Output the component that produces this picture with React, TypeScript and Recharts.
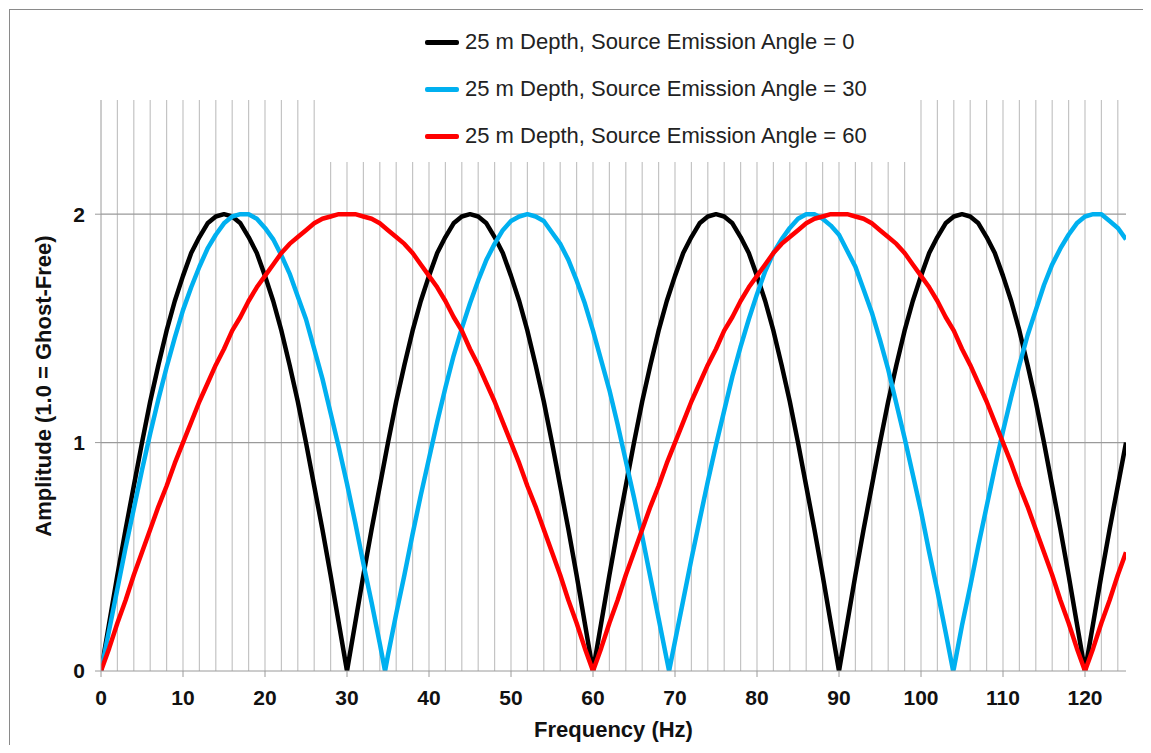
import React from "react";
import { LineChart, Line, XAxis, YAxis, ReferenceLine, Label } from "recharts";

const FONT = '"Liberation Sans", Arial, sans-serif';

// frequency samples (Hz)
const freq = [
  0, 1, 2, 3, 4, 5, 6, 7, 8, 9, 10, 11, 12, 13, 14, 15, 16, 17, 18, 19, 20, 21, 22, 23, 24, 25, 26, 27, 28, 29,
  30, 31, 32, 33, 34, 35, 36, 37, 38, 39, 40, 41, 42, 43, 44, 45, 46, 47, 48, 49, 50, 51, 52, 53, 54, 55, 56, 57, 58, 59,
  60, 61, 62, 63, 64, 65, 66, 67, 68, 69, 70, 71, 72, 73, 74, 75, 76, 77, 78, 79, 80, 81, 82, 83, 84, 85, 86, 87, 88, 89,
  90, 91, 92, 93, 94, 95, 96, 97, 98, 99, 100, 101, 102, 103, 104, 105, 106, 107, 108, 109, 110, 111, 112, 113, 114, 115, 116, 117, 118, 119,
  120, 121, 122, 123, 124, 125,
];

// angle = 0 (notches at 30 Hz spacing)
const amp0 = [
  0, 0.21, 0.42, 0.62, 0.81, 1.0, 1.18, 1.34, 1.49, 1.62, 1.73, 1.83, 1.9, 1.96, 1.99, 2.0, 1.99, 1.96, 1.9, 1.83, 1.73, 1.62, 1.49, 1.34, 1.18, 1.0, 0.81, 0.62, 0.42, 0.21,
  0, 0.21, 0.42, 0.62, 0.81, 1.0, 1.18, 1.34, 1.49, 1.62, 1.73, 1.83, 1.9, 1.96, 1.99, 2.0, 1.99, 1.96, 1.9, 1.83, 1.73, 1.62, 1.49, 1.34, 1.18, 1.0, 0.81, 0.62, 0.42, 0.21,
  0, 0.21, 0.42, 0.62, 0.81, 1.0, 1.18, 1.34, 1.49, 1.62, 1.73, 1.83, 1.9, 1.96, 1.99, 2.0, 1.99, 1.96, 1.9, 1.83, 1.73, 1.62, 1.49, 1.34, 1.18, 1.0, 0.81, 0.62, 0.42, 0.21,
  0, 0.21, 0.42, 0.62, 0.81, 1.0, 1.18, 1.34, 1.49, 1.62, 1.73, 1.83, 1.9, 1.96, 1.99, 2.0, 1.99, 1.96, 1.9, 1.83, 1.73, 1.62, 1.49, 1.34, 1.18, 1.0, 0.81, 0.62, 0.42, 0.21,
  0, 0.21, 0.42, 0.62, 0.81, 1.0,
];

// angle = 60 (notches at 60 Hz spacing)
const amp60 = [
  0, 0.1, 0.21, 0.31, 0.42, 0.52, 0.62, 0.72, 0.81, 0.91, 1.0, 1.09, 1.18, 1.26, 1.34, 1.41, 1.49, 1.55, 1.62, 1.68, 1.73, 1.78, 1.83, 1.87, 1.9, 1.93, 1.96, 1.98, 1.99, 2.0,
  2.0, 2.0, 1.99, 1.98, 1.96, 1.93, 1.9, 1.87, 1.83, 1.78, 1.73, 1.68, 1.62, 1.55, 1.49, 1.41, 1.34, 1.26, 1.18, 1.09, 1.0, 0.91, 0.81, 0.72, 0.62, 0.52, 0.42, 0.31, 0.21, 0.1,
  0, 0.1, 0.21, 0.31, 0.42, 0.52, 0.62, 0.72, 0.81, 0.91, 1.0, 1.09, 1.18, 1.26, 1.34, 1.41, 1.49, 1.55, 1.62, 1.68, 1.73, 1.78, 1.83, 1.87, 1.9, 1.93, 1.96, 1.98, 1.99, 2.0,
  2.0, 2.0, 1.99, 1.98, 1.96, 1.93, 1.9, 1.87, 1.83, 1.78, 1.73, 1.68, 1.62, 1.55, 1.49, 1.41, 1.34, 1.26, 1.18, 1.09, 1.0, 0.91, 0.81, 0.72, 0.62, 0.52, 0.42, 0.31, 0.21, 0.1,
  0, 0.1, 0.21, 0.31, 0.42, 0.52,
];

// angle = 30 has its own samples (notches near 34.6, 69.3, 103.9 Hz)
const freq30 = [
  0, 1, 2, 3, 4, 5, 6, 7, 8, 9, 10, 11, 12, 13, 14, 15, 16, 17, 18, 19, 20, 21, 22, 23, 24, 25, 26, 27, 28, 29,
  30, 31, 32, 33, 34, 34.64, 35, 36, 37, 38, 39, 40, 41, 42, 43, 44, 45, 46, 47, 48, 49, 50, 51, 52, 53, 54, 55, 56, 57, 58, 59,
  60, 61, 62, 63, 64, 65, 66, 67, 68, 69, 69.28, 70, 71, 72, 73, 74, 75, 76, 77, 78, 79, 80, 81, 82, 83, 84, 85, 86, 87, 88, 89,
  90, 91, 92, 93, 94, 95, 96, 97, 98, 99, 100, 101, 102, 103, 103.92, 104, 105, 106, 107, 108, 109, 110, 111, 112, 113, 114, 115, 116, 117, 118, 119,
  120, 121, 122, 123, 124, 125,
];
const amp30 = [
  0, 0.18, 0.36, 0.54, 0.71, 0.88, 1.04, 1.19, 1.33, 1.46, 1.58, 1.68, 1.77, 1.85, 1.91, 1.96, 1.99, 2.0, 2.0, 1.98, 1.94, 1.89, 1.82, 1.74, 1.64, 1.54, 1.41, 1.28, 1.13, 0.98,
  0.82, 0.65, 0.47, 0.3, 0.12, 0, 0.07, 0.25, 0.42, 0.6, 0.77, 0.93, 1.09, 1.24, 1.38, 1.5, 1.61, 1.71, 1.8, 1.87, 1.93, 1.97, 1.99, 2.0, 1.99, 1.97, 1.92, 1.87, 1.8, 1.71, 1.61,
  1.49, 1.36, 1.23, 1.08, 0.92, 0.76, 0.59, 0.41, 0.23, 0.05, 0, 0.13, 0.31, 0.49, 0.66, 0.83, 0.99, 1.14, 1.29, 1.42, 1.54, 1.65, 1.75, 1.83, 1.89, 1.94, 1.98, 2.0, 2.0, 1.98, 1.95,
  1.91, 1.84, 1.77, 1.67, 1.57, 1.45, 1.32, 1.17, 1.02, 0.86, 0.7, 0.52, 0.35, 0.17, 0, 0.01, 0.2, 0.37, 0.55, 0.72, 0.89, 1.05, 1.2, 1.34, 1.47, 1.58, 1.69, 1.78, 1.85, 1.91, 1.96,
  1.99, 2.0, 2.0, 1.97, 1.94, 1.89,
];

const xTicks = [0, 10, 20, 30, 40, 50, 60, 70, 80, 90, 100, 110, 120];
const yTicks = [0, 1, 2];
const gridFreq = [
  2, 4, 6, 8, 10, 12, 14, 16, 18, 20, 22, 24, 26, 28, 30, 32, 34, 36, 38, 40, 42, 44, 46, 48, 50, 52, 54, 56, 58, 60, 62,
  64, 66, 68, 70, 72, 74, 76, 78, 80, 82, 84, 86, 88, 90, 92, 94, 96, 98, 100, 102, 104, 106, 108, 110, 112, 114, 116, 118, 120, 122, 124,
];

const seriesNames = [
  "25 m Depth, Source Emission Angle = 0",
  "25 m Depth, Source Emission Angle = 30",
  "25 m Depth, Source Emission Angle = 60",
];
const seriesColors = ["#000000", "#00b0f0", "#ff0000"];

const data0 = freq.map((f, i) => ({ f, a: amp0[i] }));
const data30 = freq30.map((f, i) => ({ f, a: amp30[i] }));
const data60 = freq.map((f, i) => ({ f, a: amp60[i] }));
const seriesData = [data0, data30, data60];

export default function App() {
  return (
    <div
      style={{
        position: "relative",
        width: 1151,
        height: 753,
        margin: -8,
        overflow: "hidden",
        background: "#fff",
        fontFamily: FONT,
      }}
    >
      {/* outer frame */}
      <div
        style={{
          position: "absolute",
          left: 9,
          top: 9,
          width: 1200,
          height: 800,
          border: "1.5px solid #8a8a8a",
        }}
      />
      <div style={{ position: "absolute", left: 0, top: 0 }}>
        <LineChart width={1151} height={753} margin={{ top: 100, right: 25, bottom: 42, left: 41 }}>
          <XAxis
            dataKey="f"
            type="number"
            domain={[0, 125]}
            ticks={xTicks}
            allowDataOverflow
            height={40}
            stroke="#9a9a9a"
            tickSize={6}
            tickMargin={13}
            tick={{ fill: "#111", fontSize: 21, fontWeight: 700, fontFamily: FONT }}
          >
            <Label
              value="Frequency (Hz)"
              position="bottom"
              offset={10}
              style={{ fill: "#111", fontSize: 22, fontWeight: 700, fontFamily: FONT }}
            />
          </XAxis>
          <YAxis
            type="number"
            domain={[0, 2.5]}
            ticks={yTicks}
            allowDataOverflow
            width={60}
            stroke="#9a9a9a"
            tickSize={6}
            tickMargin={10}
            tick={{ fill: "#111", fontSize: 21, fontWeight: 700, fontFamily: FONT }}
          >
            <Label
              content={() => (
                <text
                  x={43}
                  y={386}
                  transform="rotate(-90 43 386)"
                  textAnchor="middle"
                  dominantBaseline="central"
                  style={{ fill: "#111", fontSize: 22, fontWeight: 700, fontFamily: FONT }}
                >
                  Amplitude (1.0 = Ghost-Free)
                </text>
              )}
            />
          </YAxis>
          {gridFreq.map((g) => (
            <ReferenceLine key={`gx-${g}`} x={g} stroke="#c4c4c4" strokeWidth={1.2} />
          ))}
          <ReferenceLine y={1} stroke="#9a9a9a" strokeWidth={1.2} />
          <ReferenceLine y={2} stroke="#9a9a9a" strokeWidth={1.2} />
          {seriesData.map((d, i) => (
            <Line
              key={seriesNames[i]}
              data={d}
              dataKey="a"
              name={seriesNames[i]}
              type="linear"
              stroke={seriesColors[i]}
              strokeWidth={4.5}
              strokeLinejoin="round"
              dot={false}
              isAnimationActive={false}
            />
          ))}
        </LineChart>
      </div>
      {/* legend (white box covers the grid behind it) */}
      <div
        style={{
          position: "absolute",
          left: 320,
          top: 16,
          width: 592,
          height: 146,
          background: "#fff",
        }}
      >
        {seriesNames.map((name, i) => (
          <div
            key={name}
            style={{
              position: "absolute",
              left: 105,
              top: 12 + i * 47,
              height: 28,
              display: "flex",
              alignItems: "center",
              whiteSpace: "nowrap",
            }}
          >
            <span
              style={{
                display: "inline-block",
                width: 34,
                height: 5,
                borderRadius: 2,
                background: seriesColors[i],
                marginRight: 6,
              }}
            />
            <span style={{ fontSize: 22, color: "#222" }}>{name}</span>
          </div>
        ))}
      </div>
    </div>
  );
}
